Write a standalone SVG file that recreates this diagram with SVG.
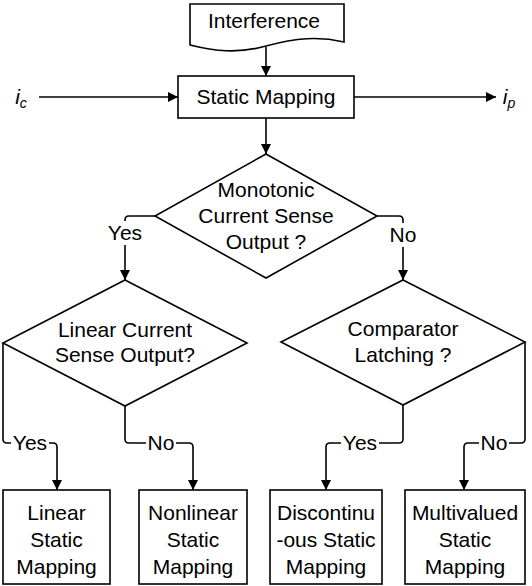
<svg xmlns="http://www.w3.org/2000/svg" width="532" height="586" viewBox="0 0 532 586">
<defs>
<marker id="ah" viewBox="0 0 10 10" refX="10" refY="5" markerWidth="10" markerHeight="10" markerUnits="userSpaceOnUse" orient="auto">
<path d="M0,0 L10,5 L0,10 Z" fill="#000"/>
</marker>
<style>
.s{fill:#fff;stroke:#000;stroke-width:1.6}
.e{fill:none;stroke:#000;stroke-width:1.6}
.a{marker-end:url(#ah)}
text{font-family:"Liberation Sans",Arial,sans-serif;font-size:21px;fill:#000;text-anchor:middle}
.lb{fill:#fff;stroke:none}
</style>
</defs>
<rect width="532" height="586" fill="#fff"/>
<g id="connectors">
<path class="e a" d="M266,47 V76"/>
<path class="e a" d="M39,97 H178"/>
<path class="e a" d="M354,97 H496"/>
<path class="e a" d="M266,118 V154"/>
<path class="e a" d="M155,216 H129 Q125,216 125,220 V280"/>
<path class="e a" d="M377,216 H399 Q403,216 403,220 V280"/>
<path class="e a" d="M3,343 V439 Q3,443 7,443 H53 Q57,443 57,447 V490"/>
<path class="e a" d="M125,406 V439 Q125,443 129,443 H189 Q193,443 193,447 V490"/>
<path class="e a" d="M403,405 V439 Q403,443 399,443 H330 Q326,443 326,447 V490"/>
<path class="e a" d="M525,342 V439 Q525,443 521,443 H468 Q464,443 464,447 V490"/>
<rect class="lb" x="105" y="221" width="40" height="24"/>
<text x="125" y="240">Yes</text>
<rect class="lb" x="387" y="223" width="32" height="24"/>
<text x="403" y="242">No</text>
<rect class="lb" x="11" y="432" width="38" height="22"/>
<text x="30" y="450">Yes</text>
<rect class="lb" x="146" y="432" width="30" height="22"/>
<text x="161" y="450">No</text>
<rect class="lb" x="341" y="432" width="38" height="22"/>
<text x="360" y="450">Yes</text>
<rect class="lb" x="479" y="432" width="30" height="22"/>
<text x="494" y="450">No</text>
</g>
<g id="ic"><text x="21" y="104" font-style="italic">i<tspan font-size="14" dy="4">c</tspan></text></g>
<g id="ip"><text x="509" y="104" font-style="italic">i<tspan font-size="14" dy="4">p</tspan></text></g>
<g id="interference">
<path class="s" d="M190,4 H344 V42 C318,36 296,38 266,46 C238,54 214,51 190,45 Z"/>
<text x="264" y="28">Interference</text>
</g>
<g id="static-mapping">
<rect class="s" x="178" y="76" width="176" height="42"/>
<text x="266" y="104">Static Mapping</text>
</g>
<g id="monotonic">
<path class="s" d="M266,154 L377,216 L266,278 L155,216 Z"/>
<text x="266" y="197">Monotonic</text>
<text x="266" y="223">Current Sense</text>
<text x="266" y="249">Output ?</text>
</g>
<g id="linear">
<path class="s" d="M125,280 L247,343 L125,406 L3,343 Z"/>
<text x="125" y="337">Linear Current</text>
<text x="125" y="362">Sense Output?</text>
</g>
<g id="comparator">
<path class="s" d="M403,280 L525,342 L403,405 L281,342 Z"/>
<text x="403" y="336">Comparator</text>
<text x="403" y="362">Latching ?</text>
</g>
<g id="box-linear">
<rect class="s" x="3" y="490" width="107" height="94"/>
<text x="56.5" y="520">Linear</text>
<text x="56.5" y="547">Static</text>
<text x="56.5" y="574">Mapping</text>
</g>
<g id="box-nonlinear">
<rect class="s" x="139" y="490" width="108" height="94"/>
<text x="193" y="520">Nonlinear</text>
<text x="193" y="547">Static</text>
<text x="193" y="574">Mapping</text>
</g>
<g id="box-discontinuous">
<rect class="s" x="270" y="490" width="112" height="94"/>
<text x="326" y="520">Discontinu</text>
<text x="326" y="547">-ous Static</text>
<text x="326" y="574">Mapping</text>
</g>
<g id="box-multivalued">
<rect class="s" x="405" y="490" width="120" height="94"/>
<text x="465" y="520">Multivalued</text>
<text x="465" y="547">Static</text>
<text x="465" y="574">Mapping</text>
</g>
</svg>
